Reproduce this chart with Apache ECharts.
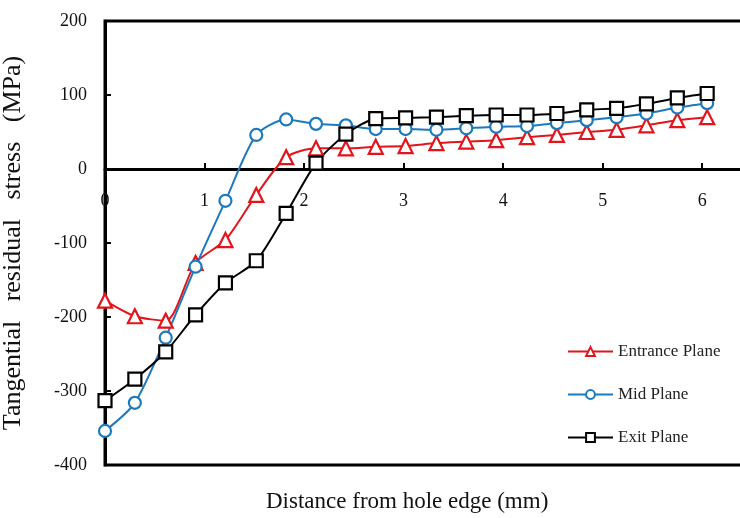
<!DOCTYPE html>
<html>
<head>
<meta charset="utf-8">
<script src="https://cdn.jsdelivr.net/npm/echarts@6/dist/echarts.min.js"></script>
<style>
  html, body { margin: 0; padding: 0; background: #ffffff; }
  #chart { width: 740px; height: 518px; }
</style>
</head>
<body>
<div id="chart"></div>
<script>
// distance from hole edge (mm)
const distance = [0, 0.3, 0.61, 0.91, 1.21, 1.52, 1.82, 2.12, 2.42, 2.72, 3.02,
  3.33, 3.63, 3.93, 4.24, 4.54, 4.84, 5.14, 5.44, 5.75, 6.05];
// tangential residual stress (MPa)
const entrancePlane = [-178, -199, -205, -127, -96, -35, 16, 28, 28, 30, 31,
  35, 37, 39, 43, 46, 50, 53, 59, 66, 70];
const midPlane = [-354, -316, -228, -132, -43, 46, 67, 61, 59, 54, 54,
  53, 55, 57, 58, 62, 66, 70, 75, 83, 89];
const exitPlane = [-313, -284, -247, -197, -154, -124, -60, 8, 47, 68, 69,
  70, 72, 73, 73, 75, 80, 82, 88, 96, 102];
const seriesNames = ["Entrance Plane", "Mid Plane", "Exit Plane"];

const serif = "'Liberation Serif', 'DejaVu Serif', serif";
const pair = arr => distance.map((d, i) => [d, arr[i]]);

const makeSeries = (name, values, color, symbol, size) => ({
  name,
  type: "line",
  data: pair(values),
  smooth: 0.25,
  symbol,
  symbolSize: size,
  showAllSymbol: true,
  lineStyle: { color, width: 2 },
  itemStyle: { color: "#ffffff", borderColor: color, borderWidth: 2.2 },
  z: 3
});

const myChart = echarts.init(document.getElementById("chart"));
const option = {
  backgroundColor: "#ffffff",
  animation: false,
  title: {
    text: "Distance from hole edge (mm)",
    left: 261,
    top: 485,
    textStyle: { fontFamily: serif, fontSize: 23, fontWeight: "normal", color: "#111" }
  },
  legend: {
    orient: "vertical",
    left: 567,
    top: 343,
    padding: 0,
    itemWidth: 45,
    itemHeight: 11,
    itemGap: 26,
    data: seriesNames,
    textStyle: { fontFamily: serif, fontSize: 17, color: "#222" }
  },
  grid: {
    left: 105,
    right: -3,
    top: 21,
    bottom: 53,
    outerBoundsMode: "none",
    show: true,
    borderColor: "#000",
    borderWidth: 3
  },
  xAxis: {
    type: "value",
    min: 0,
    max: 6.41,
    interval: 1,
    splitLine: { show: false },
    axisLine: { onZero: true, lineStyle: { color: "#000", width: 3 } },
    axisTick: { inside: true, length: 6, lineStyle: { color: "#000", width: 2 } },
    axisLabel: {
      // labels sit just under the zero line, not at the bottom of the grid
      margin: -273,
      showMaxLabel: false,
      fontFamily: serif,
      fontSize: 18,
      color: "#111",
      formatter: v => (Number.isInteger(v) ? String(v) : "")
    }
  },
  yAxis: {
    type: "value",
    min: -400,
    max: 200,
    interval: 100,
    name: "Tangential   residual   stress   (MPa)",
    nameLocation: "middle",
    nameGap: 79,
    nameTextStyle: { fontFamily: serif, fontSize: 26, color: "#111" },
    splitLine: { show: false },
    axisLine: { lineStyle: { color: "#000", width: 3 } },
    axisTick: { inside: true, length: 6, lineStyle: { color: "#000", width: 2 } },
    axisLabel: { margin: 18, fontFamily: serif, fontSize: 18, color: "#111" }
  },
  series: [
    makeSeries(seriesNames[0], entrancePlane, "#e3141b", "triangle", 14),
    makeSeries(seriesNames[1], midPlane, "#1c79bd", "circle", 12),
    makeSeries(seriesNames[2], exitPlane, "#000000", "rect", 13)
  ]
};
myChart.setOption(option);
</script>
</body>
</html>
